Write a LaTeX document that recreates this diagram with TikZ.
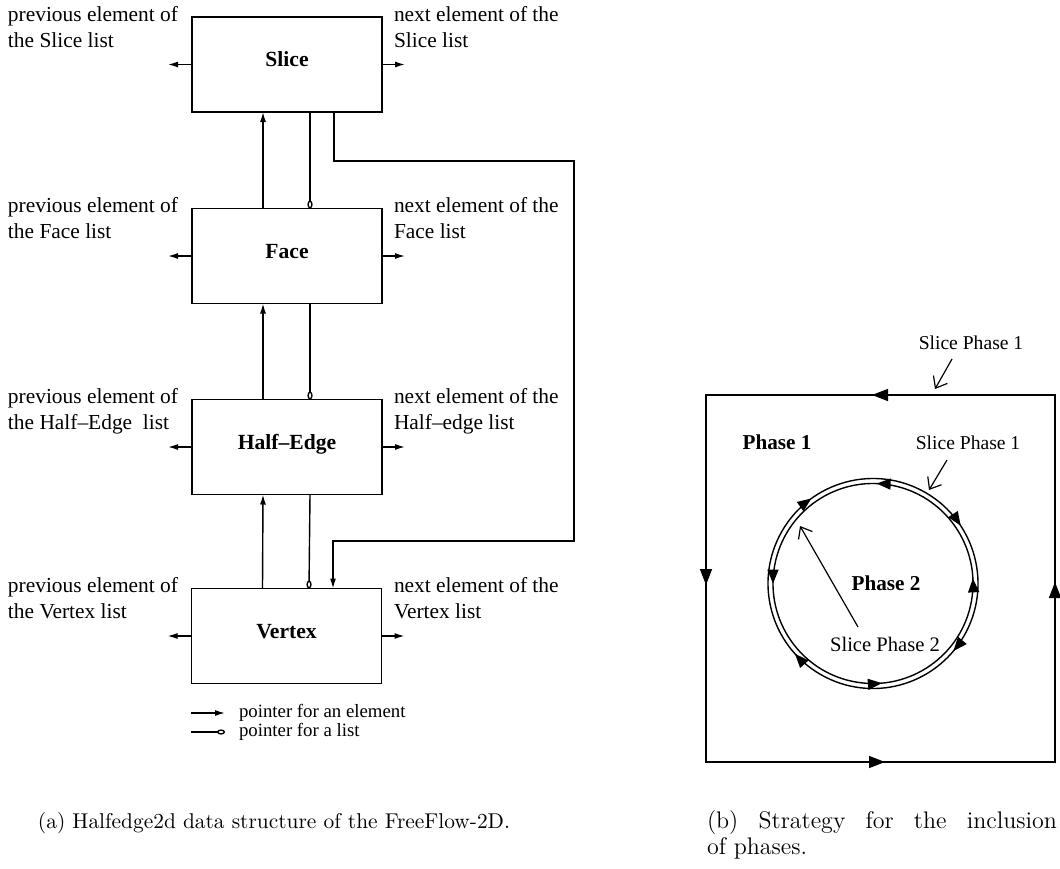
\documentclass[tikz,border=0pt]{standalone}
\usepackage{fontspec}
\newfontfamily\tms{Liberation Serif}
\usetikzlibrary{arrows.meta,decorations.markings}
\begin{document}
\begin{tikzpicture}[x=0.5pt,y=-0.5pt,
  every node/.style={inner sep=0pt,outer sep=0pt},
  databox/.style={draw,line width=0.8pt,minimum width=95pt,minimum height=47.5pt,
    text height=7.5pt,text depth=5.5pt,font=\tms\bfseries\fontsize{10.8}{13}\selectfont},
  lbl/.style={anchor=base west,font=\tms\fontsize{10.7}{12.5}\selectfont},
  leg/.style={anchor=base west,font=\tms\fontsize{9.4}{11}\selectfont},
  rlbl/.style={font=\tms\fontsize{9.8}{12}\selectfont},
  rbold/.style={font=\tms\bfseries\fontsize{10.6}{12}\selectfont},
  captext/.style={anchor=base west,font=\fontsize{10.7}{13}\selectfont},
  captextb/.style={anchor=base west,font=\fontsize{12}{14}\selectfont},
  conn/.style={line width=0.7pt},
  elem/.style={conn,-{Latex[length=5pt,width=3pt]}},
  lst/.style={conn,-{Circle[open,length=4pt,width=2.6pt]}},
  barb/.style={line width=0.6pt,-{Straight Barb[length=5pt,width=8pt]}},
  sqarrows/.style={postaction={decorate},decoration={markings,
    mark=at position 91.5pt with {\arrow{Triangle[length=8pt,width=6pt]}},
    mark=at position 269.5pt with {\arrow{Triangle[length=8pt,width=6pt]}},
    mark=at position 447.5pt with {\arrow{Triangle[length=8pt,width=6pt]}},
    mark=at position 622.5pt with {\arrow{Triangle[length=8pt,width=6pt]}}}},
  innerarrows/.style={postaction={decorate},decoration={markings,
    mark=at position 0.036 with {\arrow{Triangle[length=7pt,width=5.5pt]}},
    mark=at position 0.272 with {\arrow{Triangle[length=7pt,width=5.5pt]}},
    mark=at position 0.528 with {\arrow{Triangle[length=7pt,width=5.5pt]}},
    mark=at position 0.792 with {\arrow{Triangle[length=7pt,width=5.5pt]}}}},
  outerarrows/.style={postaction={decorate},decoration={markings,
    mark=at position 0.074 with {\arrow{Triangle[length=7pt,width=5.5pt]}},
    mark=at position 0.278 with {\arrow{Triangle[length=7pt,width=5.5pt]}},
    mark=at position 0.55 with {\arrow{Triangle[length=7pt,width=5.5pt]}},
    mark=at position 0.817 with {\arrow{Triangle[length=7pt,width=5.5pt]}}}}
]
\useasboundingbox (0,0) rectangle (1060,868);

% ---------- (a) data structure ----------
\node[databox] (slice)  at (287,64.5) {Slice};
\node[databox] (face)   at (287,256)  {Face};
\node[databox] (half)   at (287,447)  {Half–Edge};
\node[databox] (vertex) at (286.5,636) {Vertex};

% labels
\node[lbl] (slp1) at (8,21) {previous element of};
\node[lbl] (slp2) at (8,47) {the Slice list};
\node[lbl] (sln1) at (394,21) {next element of the};
\node[lbl] (sln2) at (394,47) {Slice list};

\node[lbl] (fap1) at (8,212) {previous element of};
\node[lbl] (fap2) at (8,238) {the Face list};
\node[lbl] (fan1) at (394,212) {next element of the};
\node[lbl] (fan2) at (394,238) {Face list};

\node[lbl] (hep1) at (8,403) {previous element of};
\node[lbl] (hep2) at (8,429) {the Half–Edge\ \ list};
\node[lbl] (hen1) at (394,403) {next element of the};
\node[lbl] (hen2) at (394,429) {Half–edge list};

\node[lbl] (vep1) at (8,592) {previous element of};
\node[lbl] (vep2) at (8,618) {the Vertex list};
\node[lbl] (ven1) at (394,592) {next element of the};
\node[lbl] (ven2) at (394,618) {Vertex list};

% side pointers
\foreach \b in {slice,face,half,vertex}{
  \draw[elem] (\b.west) -- ++(-24,0);
  \draw[elem] (\b.east) -- ++(23,0);
}

% vertical pointers
\draw[elem] ([xshift=-12pt]face.north)   -- ([xshift=-12pt]slice.south);
\draw[lst]  ([xshift=11.5pt]slice.south) -- ([xshift=11.5pt]face.north);
\draw[elem] ([xshift=-12pt]half.north)   -- ([xshift=-12pt]face.south);
\draw[lst]  ([xshift=11.5pt]face.south)  -- ([xshift=11.5pt]half.north);
\draw[elem] ([xshift=-12pt]vertex.north) -- ([xshift=-12pt]half.south);
\draw[lst]  ([xshift=11.5pt]half.south)  -- ([xshift=11.25pt]vertex.north);

% route slice -> vertex
\coordinate (r1) at (574,161);
\coordinate (r2) at (574,541);
\draw[elem] ([xshift=23.5pt]slice.south) |- (r1) -- (r2) -| ([xshift=23.25pt]vertex.north);

% legend
\coordinate (l1a) at (191,713); \coordinate (l1b) at (225,713);
\coordinate (l2a) at (191,732); \coordinate (l2b) at (225,732);
\draw[elem] (l1a) -- (l1b);
\draw[lst]  (l2a) -- (l2b);
\node[leg] (leg1) at (239,717) {pointer for an element};
\node[leg] (leg2) at (239,736) {pointer for a list};

% ---------- (b) phases ----------
\coordinate (tr) at (1055,395);
\coordinate (tl) at (706,395);
\coordinate (bl) at (706,762);
\coordinate (br) at (1055,762);
\draw[line width=0.75pt,sqarrows] (tr) -- (tl) -- (bl) -- (br) -- cycle;

\coordinate (c) at (873,583.5);
% outer circle, clockwise (Phase 1 hole)
\draw[line width=0.7pt,outerarrows] ([shift={(-60:105)}]c) arc[start angle=-60,end angle=300,radius=105];
% inner circle, counter-clockwise (Phase 2)
\draw[line width=0.7pt,innerarrows] ([shift={(10:100)}]c) arc[start angle=10,end angle=-350,radius=100];

\node[rlbl] (sp1a) at (971,343) {Slice Phase 1};
\node[rbold] (ph1) at (777,442) {Phase 1};
\node[rlbl] (sp1b) at (968,443) {Slice Phase 1};
\node[rbold] (ph2) at (886,583) {Phase 2};
\node[font=\tms\fontsize{10.3}{12}\selectfont] (sp2) at (885,644) {Slice Phase 2};

\coordinate (a1s) at (952,359); \coordinate (a1e) at (935,389);
\coordinate (a2s) at (947,460); \coordinate (a2e) at (929,490);
\coordinate (a3s) at (858,627); \coordinate (a3e) at (800,526);
\draw[barb] (a1s) -- (a1e);
\draw[barb] (a2s) -- (a2e);
\draw[barb] (a3s) -- (a3e);

% ---------- captions ----------
\node[captext] (capa)  at (38,828)  {(a) Halfedge2d data structure of the FreeFlow-2D.};
\node[captextb] (capb1) at (707,828) {\makebox[175pt][s]{(b) Strategy for the inclusion}};
\node[captextb] (capb2) at (707,854) {of phases.};
\end{tikzpicture}
\end{document}
